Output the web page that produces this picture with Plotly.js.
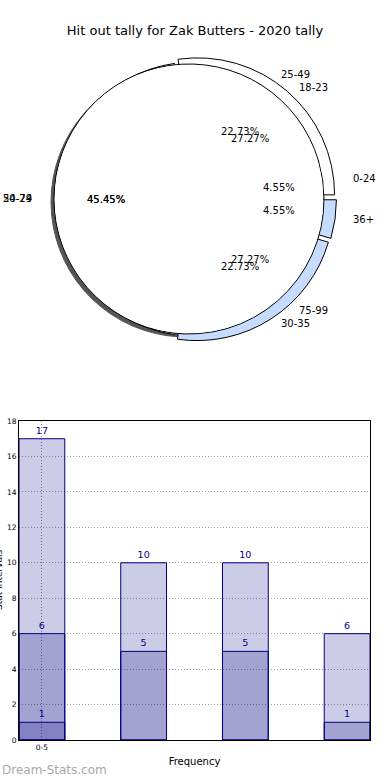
<!DOCTYPE html>
<html><head><meta charset="utf-8">
<script src="https://cdn.plot.ly/plotly-3.0.1.min.js"></script>
<style>html,body{margin:0;padding:0;background:#fff}</style>
</head><body><div id="chart" style="width:390px;height:780px"></div>
<script>
// ---- data ----
const chartTitle = 'Hit out tally for Zak Butters - 2020 tally';
const pieALabels = ['0-24', '25-49', '50-74', '75-99'];
const pieAValues = [1, 5, 10, 6];
const pieBLabels = ['18-23', '24-29', '30-35', '36+'];
const pieBValues = [6, 10, 5, 1];
const barPositions = [0, 1, 2, 3];
const tickValues = [0];
const tickLabels = ['0-5'];
const layer1 = [17, 10, 10, 6];
const layer2 = [6, 5, 5, 1];
const layer3 = [1];
const xTitle = 'Frequency';
const yTitle = 'Stat Intervals';
const watermark = 'Dream-Stats.com';

// ---- layout helpers ----
const W = 390, H = 780;
function dom(cx, cy, r) {
  return {x: [(cx - r) / W, (cx + r) / W], y: [1 - (cy + r) / H, 1 - (cy - r) / H]};
}
function sum(a) { return a.reduce((s, v) => s + v, 0); }
// first slice starts at 3 o'clock and the slices run counterclockwise
function startRotation(values) { return 90 - 360 * values[0] / sum(values); }

const TX = 193, TY = 199, RX = 145, RY = 134;
function pieTexts(labels, values) {
  const total = sum(values);
  let cum = 0; const out = [];
  labels.forEach((lab, i) => {
    const v = values[i];
    const th = 2 * Math.PI * (cum + v / 2) / total; cum += v;
    const c = Math.cos(th), s = Math.sin(th);
    out.push({x: (TX + 0.6 * RX * c) / W, y: 1 - (TY - 0.6 * RY * s) / H, xref: 'paper', yref: 'paper',
      text: (v / total * 100).toFixed(2) + '%', showarrow: false, xanchor: 'center', yanchor: 'middle',
      font: {size: 10, color: '#000'}});
    out.push({x: (TX + 1.1 * RX * c) / W, y: 1 - (TY - 1.1 * RY * s) / H, xref: 'paper', yref: 'paper',
      text: lab, showarrow: false, xanchor: c > 0 ? 'left' : 'right', yanchor: 'middle',
      font: {size: 10, color: '#000'}});
  });
  return out;
}

const pieBase = {type: 'pie', sort: false, direction: 'counterclockwise',
  textinfo: 'none', hoverinfo: 'skip', showlegend: false};
const pullB = 0.04;
const RA = 135, RB = 137;

const traces = [
  // shadow of the front pie
  Object.assign({}, pieBase, {labels: pieALabels, values: pieAValues, rotation: startRotation(pieAValues),
    domain: dom(186, 202, RA),
    marker: {colors: ['#555', '#555', '#555', '#555'], line: {color: '#555', width: 1}}}),
  // back pie (exploded wedges)
  Object.assign({}, pieBase, {labels: pieBLabels, values: pieBValues, rotation: startRotation(pieBValues),
    domain: dom(194, 199, RB * (1 + pullB)), pull: [pullB, 0, pullB, pullB],
    marker: {colors: ['#ffffff', '#ffffff', '#c6dcff', '#c6dcff'], line: {color: '#000', width: 1}}}),
  // front pie outline
  Object.assign({}, pieBase, {labels: pieALabels, values: pieAValues, rotation: startRotation(pieAValues),
    domain: dom(189, 199, RA),
    marker: {colors: ['#fff', '#fff', '#fff', '#fff'], line: {color: '#000', width: 1}}}),
  // front pie face
  Object.assign({}, pieBase, {labels: pieALabels, values: pieAValues, rotation: startRotation(pieAValues),
    domain: dom(189, 199, RA - 1.5),
    marker: {colors: ['#fff', '#fff', '#fff', '#fff'], line: {color: '#fff', width: 1.2}}}),
];

const barBase = {type: 'bar', width: 0.45, xaxis: 'x', yaxis: 'y',
  marker: {color: 'rgba(0,0,128,0.2)', line: {color: '#000080', width: 1}},
  textposition: 'outside', cliponaxis: false, textfont: {size: 9.5, color: '#00008b'},
  hoverinfo: 'skip', showlegend: false};
[layer1, layer2, layer3].forEach(vals => {
  traces.push(Object.assign({}, barBase, {x: barPositions.slice(0, vals.length), y: vals,
    text: vals.map(String)}));
});

const annotations = pieTexts(pieALabels, pieAValues).concat(pieTexts(pieBLabels, pieBValues));
annotations.push({x: 0, y: 1 - 770 / H, xref: 'paper', yref: 'paper', text: watermark, showarrow: false,
  xanchor: 'left', yanchor: 'middle', font: {size: 12, color: '#a8a8a8'}});
// y-axis title, mostly cut off by the left page edge as in the original
annotations.push({x: -1 / W, y: 1 - 580 / H, xref: 'paper', yref: 'paper', text: yTitle, showarrow: false,
  textangle: -90, xanchor: 'center', yanchor: 'middle', font: {size: 9, color: '#000'}});

const gridDash = '1px,2px';
const layout = {
  width: W, height: H, margin: {l: 0, r: 0, t: 0, b: 0},
  paper_bgcolor: '#fff', plot_bgcolor: 'rgba(0,0,0,0)',
  font: {family: 'DejaVu Sans', color: '#000'},
  title: {text: chartTitle, x: 0.5, xanchor: 'center', y: 1 - 30 / H, yanchor: 'middle', font: {size: 13, color: '#000'}},
  showlegend: false, barmode: 'overlay',
  xaxis: {domain: [19 / W, 370 / W], range: [-0.225, 3.225], tickvals: tickValues, ticktext: tickLabels,
    showgrid: true, gridcolor: '#8c8c8c', griddash: gridDash, gridwidth: 1, showline: true, mirror: true,
    linecolor: '#000', linewidth: 1, zeroline: false, ticks: '', tickfont: {size: 7.5, color: '#000'},
    title: {text: xTitle, font: {size: 10}, standoff: 6}, fixedrange: true},
  yaxis: {domain: [40 / H, 359 / H], range: [0, 18], dtick: 2, tick0: 0,
    showgrid: true, gridcolor: '#a0a0a0', griddash: gridDash, gridwidth: 1, showline: true, mirror: true,
    linecolor: '#000', linewidth: 1, zeroline: false, ticks: '', tickfont: {size: 7.5, color: '#000'},
    fixedrange: true},
  annotations: annotations
};

Plotly.newPlot('chart', traces, layout, {staticPlot: true, displayModeBar: false});
</script>
</body></html>
